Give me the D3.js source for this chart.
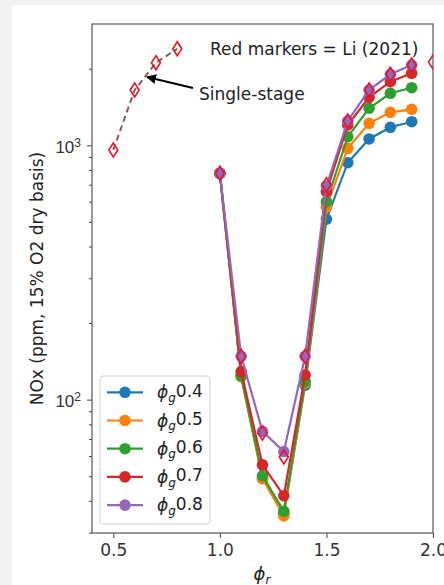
<!DOCTYPE html>
<html><head><meta charset="utf-8">
<script src="https://cdn.jsdelivr.net/npm/d3@7"></script>
<style>
html,body{margin:0;padding:0;background:#f2f2f2;}
svg{display:block;font-family:"DejaVu Sans",sans-serif;}
</style></head>
<body>
<svg id="c" width="444" height="585"></svg>
<script>
// ---- data ----
const phiR = [1.0, 1.1, 1.2, 1.3, 1.4, 1.5, 1.6, 1.7, 1.8, 1.9];
const seriesNames = ["0.4", "0.5", "0.6", "0.7", "0.8"];
const nox04 = [776, 124, 49, 35.5, 114, 512, 854, 1059, 1177, 1238];
const nox05 = [776, 123, 48.9, 34.9, 116, 571, 973, 1220, 1348, 1385];
const nox06 = [776, 124, 50.2, 36.4, 118, 600, 1081, 1398, 1601, 1684];
const nox07 = [776, 129, 55.4, 41.9, 125, 657, 1202, 1544, 1778, 1919];
const nox08 = [776, 148, 75, 62.5, 148, 692, 1246, 1649, 1901, 2068];
const singleX = [0.5, 0.6, 0.7, 0.8];
const singleNox = [958, 1649, 2111, 2397];
const liX = [1.0, 1.1, 1.2, 1.3, 1.4, 1.5, 1.6, 1.7, 1.8, 1.9, 2.0];
const liNox = [776, 148, 74, 59.5, 148, 700, 1246, 1649, 1901, 2068, 2124];
const xTicks = [0.5, 1.0, 1.5, 2.0];
const yMajor = [100, 1000];
const colors = ["#1f77b4", "#ff7f0e", "#2ca02c", "#d62728", "#9467bd"];
const allSeries = [nox04, nox05, nox06, nox07, nox08];

// ---- layout ----
const svg = d3.select("#c");
svg.append("rect").attr("x", 12).attr("y", 5).attr("width", 440).attr("height", 590).attr("fill", "#fff");
const L = 92, R = 433, T = 24, B = 533;
const x = d3.scaleLinear().domain([0.4, 2.0]).range([L, R]);
const y = d3.scaleLog().domain([29.9, 2998]).range([B, T]);

const defs = svg.append("defs");
defs.append("clipPath").attr("id", "clip").append("rect")
  .attr("x", L).attr("y", T).attr("width", R - L).attr("height", B - T);
defs.append("marker").attr("id", "arr").attr("viewBox", "0 0 10 10")
  .attr("refX", 9).attr("refY", 5).attr("markerWidth", 5).attr("markerHeight", 5)
  .attr("orient", "auto-start-reverse")
  .append("path").attr("d", "M0,0 L10,5 L0,10 z").attr("fill", "#000");

// axes
const xAxis = d3.axisBottom(x).tickValues(xTicks).tickFormat(d3.format(".1f")).tickSize(5).tickPadding(6);
const gx = svg.append("g").attr("transform", `translate(0,${B})`).call(xAxis);
gx.select(".domain").remove();
gx.selectAll("text").attr("font-size", 17).attr("fill", "#333").attr("font-family", "DejaVu Sans");
gx.selectAll("line").attr("stroke", "#444");

const minors = [];
[10, 100, 1000].forEach(dec => { for (let k = 2; k <= 9; k++) { const v = k * dec; if (v >= 29.9 && v <= 2998) minors.push(v); } });
const gyMinor = svg.append("g").attr("transform", `translate(${L},0)`)
  .call(d3.axisLeft(y).tickValues(minors).tickSize(3).tickFormat(""));
gyMinor.select(".domain").remove();
gyMinor.selectAll("line").attr("stroke", "#444");

const gy = svg.append("g").attr("transform", `translate(${L},0)`)
  .call(d3.axisLeft(y).tickValues(yMajor).tickSize(5).tickFormat(""));
gy.select(".domain").remove();
gy.selectAll("line").attr("stroke", "#444");
gy.selectAll(".tick").each(function(d) {
  const t = d3.select(this).append("text").attr("x", -11).attr("dy", "0.4em")
    .attr("text-anchor", "end").attr("font-size", 17).attr("fill", "#333");
  t.append("tspan").text("10");
  t.append("tspan").attr("dy", "-0.5em").attr("font-size", 12).text(Math.round(Math.log10(d)));
});

// frame
svg.append("rect").attr("x", L).attr("y", T).attr("width", R - L).attr("height", B - T)
  .attr("fill", "none").attr("stroke", "#555").attr("stroke-width", 1.2);

// labels
svg.append("text").attr("transform", `translate(43,${(T + B) / 2}) rotate(-90)`)
  .attr("text-anchor", "middle").attr("font-size", 17).attr("fill", "#222")
  .text("NOx (ppm, 15% O2 dry basis)");
const xl = svg.append("text").attr("x", 262).attr("y", 580).attr("text-anchor", "middle")
  .attr("font-size", 18).attr("fill", "#222");
xl.append("tspan").attr("font-style", "italic").text("ϕ");
xl.append("tspan").attr("font-style", "italic").attr("font-size", 12).attr("dy", "0.3em").text("r");

// plot
const plot = svg.append("g").attr("clip-path", "url(#clip)");
const line = d3.line().x((d, i) => x(phiR[i])).y(d => y(d));

// single-stage dashed
plot.append("path").datum(singleNox)
  .attr("d", d3.line().x((d, i) => x(singleX[i])).y(d => y(d)))
  .attr("fill", "none").attr("stroke", "#8c5a52").attr("stroke-width", 2).attr("stroke-dasharray", "6,4");

allSeries.forEach((s, k) => {
  const g = plot.append("g");
  g.append("path").datum(s).attr("d", line).attr("fill", "none")
    .attr("stroke", colors[k]).attr("stroke-width", 2.2);
  g.selectAll("circle").data(s).join("circle")
    .attr("cx", (d, i) => x(phiR[i])).attr("cy", d => y(d)).attr("r", 5.8).attr("fill", colors[k]);
});

// Li markers (thin diamonds)
const dia = "M0,-7 L4.5,0 L0,7 L-4.5,0 Z";
plot.selectAll("path.li").data(singleNox.map((v, i) => [singleX[i], v]).concat(liNox.map((v, i) => [liX[i], v])))
  .join("path").attr("class", "li").attr("d", dia)
  .attr("transform", d => `translate(${x(d[0])},${y(d[1])})`)
  .attr("fill", "none").attr("stroke", "#e8152a").attr("stroke-width", 1.6);

// annotations
svg.append("text").attr("x", 210).attr("y", 55).attr("font-size", 17).attr("fill", "#222")
  .text("Red markers = Li (2021)");
svg.append("text").attr("x", 199).attr("y", 100).attr("font-size", 17).attr("fill", "#222")
  .text("Single-stage");
svg.append("line").attr("x1", 193).attr("y1", 88).attr("x2", 147).attr("y2", 77)
  .attr("stroke", "#000").attr("stroke-width", 2).attr("marker-end", "url(#arr)");

// legend
const lg = svg.append("g");
lg.append("rect").attr("x", 100).attr("y", 376).attr("width", 110).attr("height", 148).attr("rx", 3)
  .attr("fill", "#fff").attr("fill-opacity", 0.85).attr("stroke", "#d0d0d0");
seriesNames.forEach((n, k) => {
  const yy = 392.3 + k * 28.2;
  lg.append("line").attr("x1", 107).attr("x2", 143).attr("y1", yy).attr("y2", yy)
    .attr("stroke", colors[k]).attr("stroke-width", 2.2);
  lg.append("circle").attr("cx", 125).attr("cy", yy).attr("r", 5.8).attr("fill", colors[k]);
  const t = lg.append("text").attr("x", 157).attr("y", yy + 6).attr("font-size", 17).attr("fill", "#222");
  t.append("tspan").attr("font-style", "italic").text("ϕ");
  t.append("tspan").attr("font-style", "italic").attr("font-size", 12).attr("dy", "0.3em").text("g");
  t.append("tspan").attr("dy", "-0.3em").text(n);
});
</script>
</body></html>
